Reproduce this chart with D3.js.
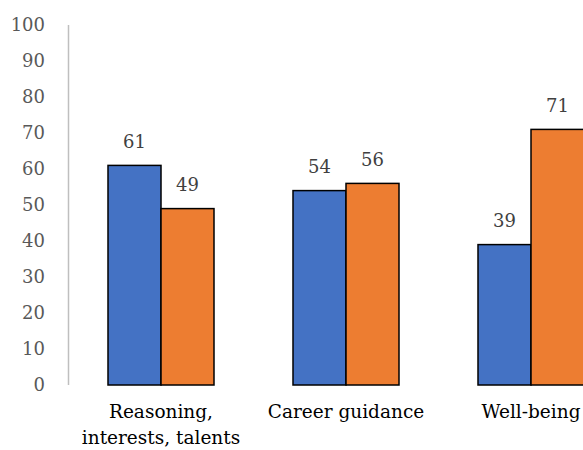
<!DOCTYPE html>
<html>
<head>
<meta charset="utf-8">
<script src="https://cdn.jsdelivr.net/npm/d3@7/dist/d3.min.js"></script>
<style>
  html, body { margin: 0; padding: 0; background: #fff; }
  svg { display: block; }
  text { font-family: "DejaVu Serif", "Liberation Serif", serif; }
</style>
</head>
<body>
<svg id="chart" width="583" height="450"></svg>
<script>
// Chart data
const categories = [["Reasoning,", "interests, talents"], ["Career guidance"], ["Well-being"]];
const seriesA = [61, 54, 39];
const seriesB = [49, 56, 71];
const yTicks = [0, 10, 20, 30, 40, 50, 60, 70, 80, 90, 100];

const svg = d3.select("#chart");
const plotLeft = 68.5, plotTop = 25, plotBottom = 385;
const bandStep = 185;

const x = d3.scaleBand()
  .domain(d3.range(categories.length))
  .range([plotLeft, plotLeft + bandStep * categories.length])
  .paddingInner(0).paddingOuter(0);

const y = d3.scaleLinear().domain([0, 100]).range([plotBottom, plotTop]);

const barW = 53;

// Vertical axis line
svg.append("line")
  .attr("x1", plotLeft).attr("x2", plotLeft)
  .attr("y1", y(100)).attr("y2", y(0))
  .attr("stroke", "#bfbfbf").attr("stroke-width", 1.5);

// Tick labels
svg.append("g").selectAll("text").data(yTicks).join("text")
  .attr("x", 45).attr("y", d => y(d))
  .attr("dy", "0.35em")
  .attr("text-anchor", "end")
  .attr("font-size", 18)
  .attr("fill", "#595959")
  .text(d => d);

const bars = [
  { values: seriesA, color: "#4472c4", offset: -barW },
  { values: seriesB, color: "#ed7d31", offset: 0 }
];

bars.forEach(s => {
  svg.append("g").selectAll("rect").data(s.values).join("rect")
    .attr("x", (d, i) => x(i) + x.bandwidth() / 2 + s.offset)
    .attr("y", d => y(d))
    .attr("width", barW)
    .attr("height", d => y(0) - y(d))
    .attr("fill", s.color)
    .attr("stroke", "#000")
    .attr("stroke-width", 1.5);

  svg.append("g").selectAll("text").data(s.values).join("text")
    .attr("x", (d, i) => x(i) + x.bandwidth() / 2 + s.offset + barW / 2)
    .attr("y", d => y(d) - 24)
    .attr("dy", "0.35em")
    .attr("text-anchor", "middle")
    .attr("font-size", 18)
    .attr("fill", "#404040")
    .text(d => d);
});

// Category labels
svg.append("g").selectAll("text").data(categories).join("text")
  .attr("x", (d, i) => x(i) + x.bandwidth() / 2)
  .attr("y", 418)
  .attr("text-anchor", "middle")
  .attr("font-size", 18.5)
  .attr("fill", "#000")
  .each(function(lines) {
    const t = d3.select(this);
    lines.forEach((line, k) => {
      t.append("tspan")
        .attr("x", t.attr("x"))
        .attr("dy", k === 0 ? 0 : 26)
        .text(line);
    });
  });
</script>
</body>
</html>
